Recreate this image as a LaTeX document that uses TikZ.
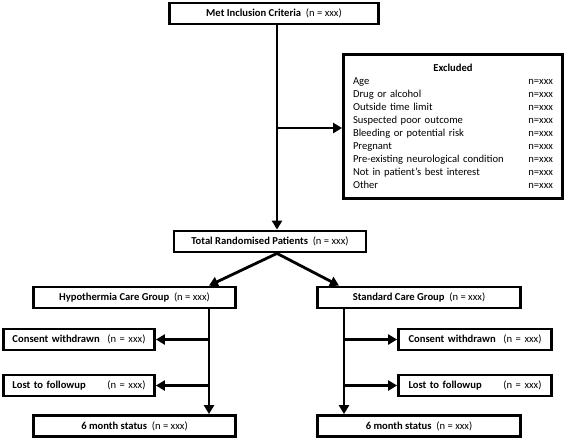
\documentclass[tikz,border=0pt]{standalone}
\usepackage{fontspec}
\setmainfont{Carlito}
\usetikzlibrary{arrows.meta}

\begin{document}
\begin{tikzpicture}[x=1pt, y=-1pt,
  box/.style={draw, line width=2.8pt, minimum height=21pt, inner sep=2pt, font=\fontsize{10.6}{12}\selectfont},
  arr/.style={line width=2.8pt, -{Triangle[length=9pt,width=10pt]}}]
  \useasboundingbox (0,0) rectangle (567,440);
  % main column
  \node[box, minimum width=209pt] (met) at (274,13.5) {\textbf{Met Inclusion Criteria}\ \ (n = xxx)};
  \node[box, minimum width=219pt, minimum height=144pt, text width=200pt, align=left,
        font=\fontsize{10.6}{13}\selectfont] (excl) at (453,126.5)
    {\makebox[200pt]{\textbf{Excluded}}\\
     Age\hfill n=xxx\\
     Drug or alcohol\hfill n=xxx\\
     Outside time limit\hfill n=xxx\\
     Suspected poor outcome\hfill n=xxx\\
     Bleeding or potential risk\hfill n=xxx\\
     Pregnant\hfill n=xxx\\
     Pre-existing neurological condition\hfill n=xxx\\
     Not in patient’s best interest\hfill n=xxx\\
     Other\hfill n=xxx};
  \node[box, minimum width=192pt] (total) at (270,241.5) {\textbf{Total Randomised Patients}\ \ (n = xxx)};
  % groups
  \node[box, minimum width=202pt] (hypo) at (134.5,297.5) {\textbf{Hypothermia Care Group}\ \ (n = xxx)};
  \node[box, minimum width=203pt] (std) at (419,297.5) {\textbf{Standard Care Group}\ \ (n = xxx)};
  \node[box, minimum width=151pt, text width=133pt] (consL) at (79,339.5) {\textbf{Consent withdrawn}\hfill(n = xxx)};
  \node[box, minimum width=151pt, text width=133pt] (lostL) at (79,385.5) {\textbf{Lost to followup}\hfill(n = xxx)};
  \node[box, minimum width=202pt] (sixL) at (134.5,426) {\textbf{6 month status}\ \ (n = xxx)};
  \node[box, minimum width=153pt, text width=133pt] (consR) at (475,339.5) {\textbf{Consent withdrawn}\hfill(n = xxx)};
  \node[box, minimum width=153pt, text width=133pt] (lostR) at (475,385.5) {\textbf{Lost to followup}\hfill(n = xxx)};
  \node[box, minimum width=203pt] (sixR) at (419,426) {\textbf{6 month status}\ \ (n = xxx)};
  % branch points
  \coordinate (trunk) at (277,128);
  \coordinate (hl) at (209,0);
  \coordinate (hr) at (344,0);
  % arrows
  \draw[arr] (met.south -| trunk) -- (trunk |- total.north);
  \draw[arr] (trunk) -- (trunk -| excl.west);
  \draw[arr] (trunk |- total.south) -- (hl |- hypo.north);
  \draw[arr] (trunk |- total.south) -- ([xshift=-5pt]hr |- std.north);
  \draw[arr] (hl |- hypo.south) -- (hl |- sixL.north);
  \draw[arr] (hl |- consL) -- (consL.east);
  \draw[arr] (hl |- lostL) -- (lostL.east);
  \draw[arr] (hr |- std.south) -- (hr |- sixR.north);
  \draw[arr] (hr |- consR) -- (consR.west);
  \draw[arr] (hr |- lostR) -- (lostR.west);
\end{tikzpicture}
\end{document}
